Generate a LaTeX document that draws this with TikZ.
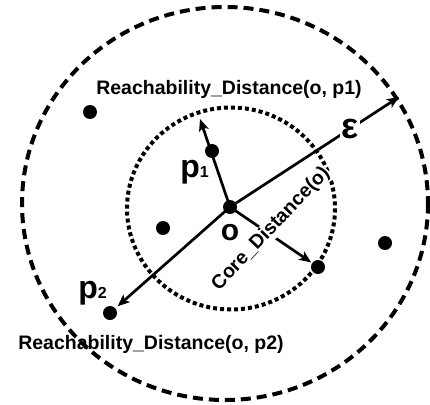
\documentclass[tikz,border=0pt]{standalone}
\usepackage{fontspec}
\setmainfont{Liberation Sans}
\usetikzlibrary{arrows.meta, positioning}

\begin{document}
\begin{tikzpicture}[x=1pt, y=-1pt,
    pt/.style={circle, fill=black, inner sep=0pt, minimum size=14pt},
    ar/.style={-{Stealth[length=12pt, width=10pt, inset=3pt]}, line width=2.7pt},
    lbl/.style={font=\bfseries\fontsize{19.5}{20}\selectfont, inner sep=0pt},
    big/.style={font=\bfseries\fontsize{30}{30}\selectfont, inner sep=1pt}]
\useasboundingbox (0,0) rectangle (430,404);
% neighbourhoods
\draw[line width=4pt, dash pattern=on 10pt off 6pt] (225,203.5) ellipse (203 and 196.5);
\draw[line width=4pt, dash pattern=on 4pt off 3pt] (231,208.5) ellipse (104 and 101);
% objects
\node[pt] (o) at (230,207) {};
\node[pt] (p1) at (212,151) {};
\node[pt] (p2) at (110,313) {};
\node[pt] (c) at (318,267) {};
\node[pt] (q1) at (90,112) {};
\node[pt] (q2) at (163,228) {};
\node[pt] (q3) at (385,243) {};
\coordinate (p1end) at (200,119);
\coordinate (epsend) at (399,97);
% distances
\draw[ar] (o.center) -- (p1end);
\draw[ar, shorten >=3pt] (o.center) -- (p2);
\draw[ar, shorten >=1pt] (o.center) -- (c);
\draw[ar] (o.center) -- node[pos=0.71, font=\bfseries\fontsize{36}{36}\selectfont, fill=white, inner sep=1pt] (eps) {ε} (epsend);
\node[lbl, fill=white, rotate=46.5, inner sep=1pt] (core) at (271,229) {Core\_Distance(o)};
% labels
\node[big, anchor=base] (olbl) at (230,240) {o};
\node[anchor=base east, inner sep=0pt] (p1lbl) at (209,177) {{\bfseries\fontsize{32}{32}\selectfont p}{\bfseries\fontsize{16}{16}\selectfont 1}};
\node[anchor=base east, inner sep=0pt] (p2lbl) at (107,298) {{\bfseries\fontsize{32}{32}\selectfont p}{\bfseries\fontsize{16}{16}\selectfont 2}};
\node[lbl] (r1) at (229,89) {Reachability\_Distance(o, p1)};
\node[lbl] (r2) at (151,344) {Reachability\_Distance(o, p2)};
\end{tikzpicture}
\end{document}
